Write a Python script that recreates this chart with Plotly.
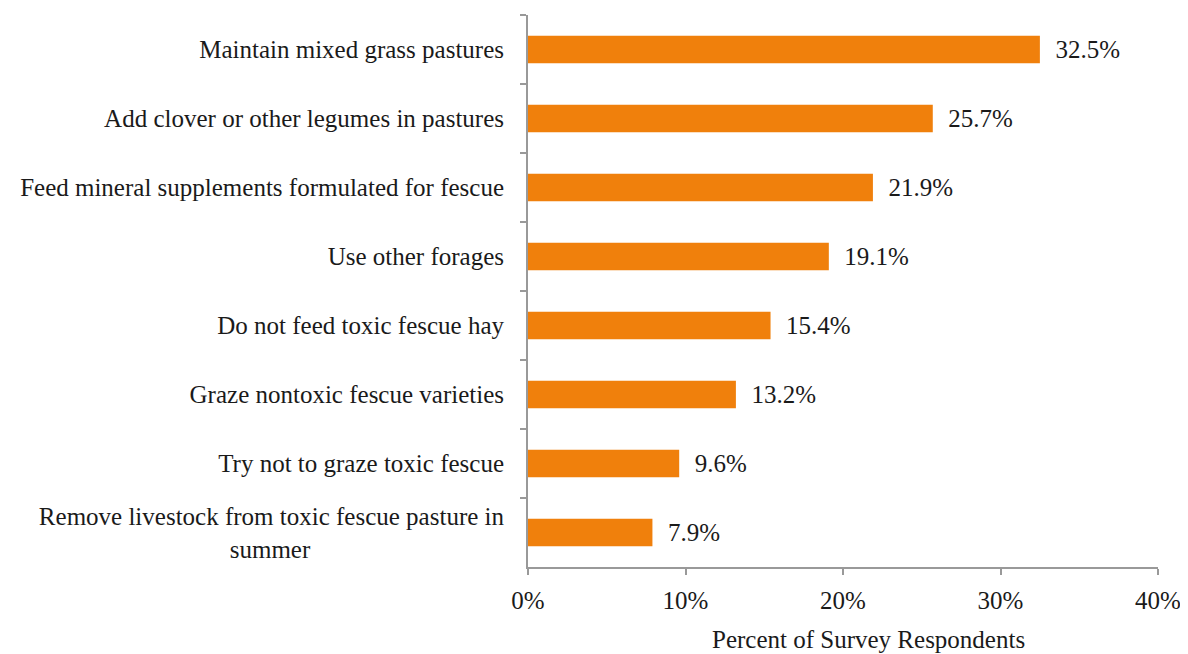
import plotly.graph_objects as go

categories = [
    "Maintain mixed grass pastures",
    "Add clover or other legumes in pastures",
    "Feed mineral supplements formulated for fescue",
    "Use other forages",
    "Do not feed toxic fescue hay",
    "Graze nontoxic fescue varieties",
    "Try not to graze toxic fescue",
    "Remove livestock from toxic fescue pasture in<br>summer" + "\u00a0" * 31,
]
values = [32.5, 25.7, 21.9, 19.1, 15.4, 13.2, 9.6, 7.9]
x_ticks = [0, 10, 20, 30, 40]
x_tick_labels = ["0%", "10%", "20%", "30%", "40%"]

FONT = "Liberation Serif"
FS = 25
fig = go.Figure(go.Bar(
    x=values, y=categories, orientation="h",
    marker=dict(color="#F0800C", line=dict(width=0)),
    text=[f"  {v:.1f}%" for v in values],
    textposition="outside",
    textfont=dict(family=FONT, size=FS, color="#1a1a1a"),
    cliponaxis=False,
    width=0.4,
))
fig.update_layout(
    width=1180, height=646,
    margin=dict(l=520, r=27, t=7, b=87),
    paper_bgcolor="white", plot_bgcolor="white",
    font=dict(family=FONT, size=FS, color="#1a1a1a"),
    showlegend=False,
    xaxis=dict(range=[0, 40], tickvals=x_ticks, ticktext=x_tick_labels,
               showgrid=False, zeroline=False, showline=True, linecolor="#999999",
               linewidth=2, ticks="outside", ticklen=6, tickwidth=2, tickcolor="#999999",
               ticklabelstandoff=4, ticklabeloverflow="allow",
               tickfont=dict(family=FONT, size=FS, color="#1a1a1a")),
    yaxis=dict(autorange="reversed", showgrid=False, zeroline=False, showline=True,
               linecolor="#999999", linewidth=2, ticks="outside", ticklen=6, tickwidth=2,
               tickcolor="#999999", tickson="boundaries", ticklabelstandoff=17,
               tickfont=dict(family=FONT, size=FS, color="#1a1a1a")),
    annotations=[dict(text="Percent of Survey Respondents", x=0.54, y=-0.132,
                      xref="paper", yref="paper", xanchor="center", yanchor="middle",
                      showarrow=False, font=dict(family=FONT, size=FS, color="#1a1a1a"))],
)
fig.write_html("out.html")
